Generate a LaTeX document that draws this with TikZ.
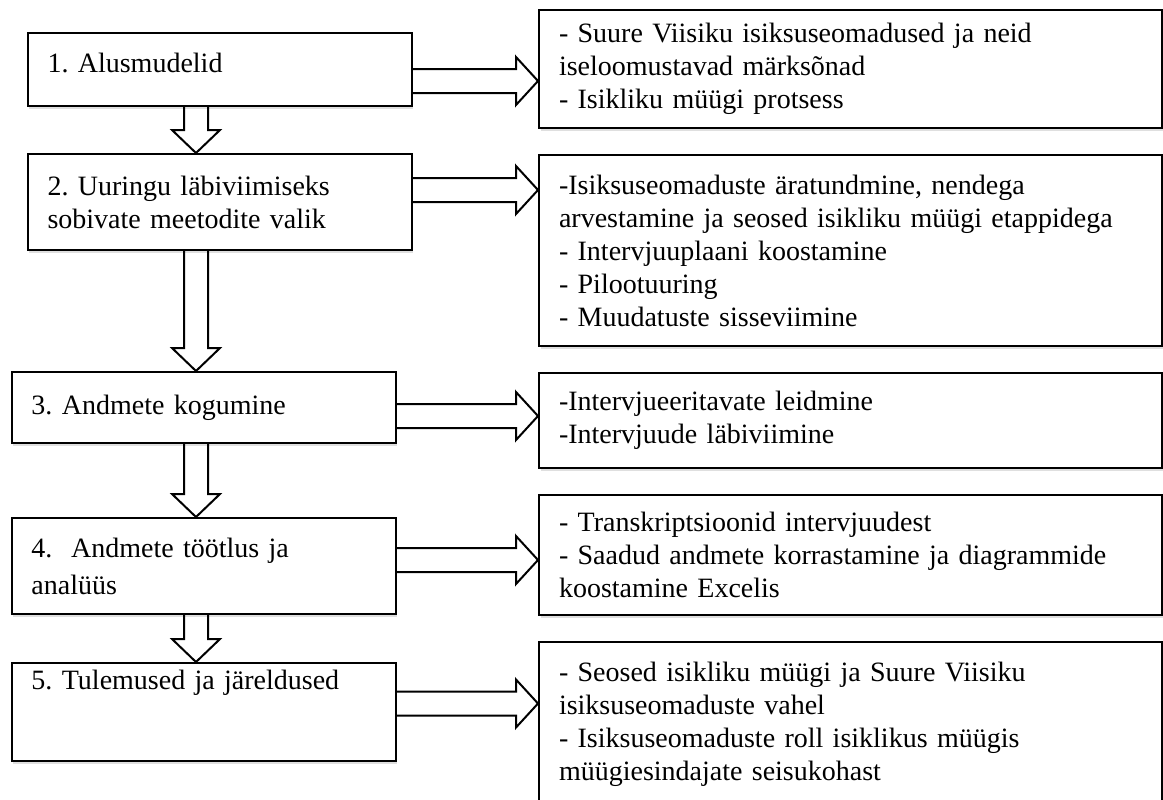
\documentclass[tikz,border=0pt]{standalone}
\usepackage{fontspec}
\setmainfont{Liberation Serif}
\frenchspacing
\usetikzlibrary{positioning, calc, shadows}

\newcommand{\rightblk}[3]{%
  \coordinate (p) at (#1.east |- 0,#3);
  \coordinate (q) at (#2.west |- 0,#3);
  \draw[barr] ($(p)+(0,-12)$) -- ($(q)+(-22,-12)$) -- ($(q)+(-22,-24)$) -- (q)
    -- ($(q)+(-22,24)$) -- ($(q)+(-22,12)$) -- ($(p)+(0,12)$);}
\newcommand{\downblk}[3]{%
  \coordinate (p) at (#1.south -| #3,0);
  \coordinate (q) at (#2.north -| #3,0);
  \draw[barr] ($(p)+(-12,0)$) -- ($(q)+(-12,-23)$) -- ($(q)+(-24,-23)$) -- (q)
    -- ($(q)+(24,-23)$) -- ($(q)+(12,-23)$) -- ($(p)+(12,0)$);}

\begin{document}
\begin{tikzpicture}[x=0.5pt, y=-0.5pt, node distance=12.5pt,
  font=\fontsize{14}{16.5}\selectfont,
  blk/.style={draw, line width=1pt, fill=white, align=left, inner xsep=10pt,
    drop shadow={shadow xshift=.8pt, shadow yshift=-1.5pt, opacity=.25}},
  lblk/.style={blk, text width=172pt},
  rblk/.style={blk, text width=291.5pt},
  barr/.style={line width=1pt, line join=miter}]
\useasboundingbox (0,0) rectangle (1163,799);
\clip (0,0) rectangle (1163,799);
% steps
\node[lblk, minimum height=36.5pt] (s1) at (219.5,69.5) {1. Alusmudelid\\[-9.5pt]\mbox{}};
\node[lblk, minimum height=48pt, below=23pt of s1] (s2) {2. Uuringu läbiviimiseks\\ sobivate meetodite valik};
\node[lblk, minimum height=35.5pt, below=60pt of s2, xshift=-8pt] (s3) {3. Andmete kogumine};
\node[lblk, minimum height=48pt, below=36.5pt of s3] (s4) {4.~ Andmete töötlus ja\\[2pt] analüüs};
\node[lblk, minimum height=48.5pt, below=23.5pt of s4] (s5) {5. Tulemused ja järeldused\\[16pt] \mbox{}};
% details
\node[rblk, minimum height=59pt] (d1) at (850.5,69) {- Suure Viisiku isiksuseomadused ja neid\\ iseloomustavad märksõnad\\ - Isikliku müügi protsess};
\node[rblk, minimum height=95.5pt, below=of d1] (d2) {-Isiksuseomaduste äratundmine, nendega\\ arvestamine ja seosed isikliku müügi etappidega\\ - Intervjuuplaani koostamine\\ - Pilootuuring\\ - Muudatuste sisseviimine};
\node[rblk, minimum height=47.5pt, below=of d2] (d3) {-Intervjueeritavate leidmine\\ -Intervjuude läbiviimine};
\node[rblk, minimum height=60pt, below=of d3] (d4) {- Transkriptsioonid intervjuudest\\ - Saadud andmete korrastamine ja diagrammide\\ koostamine Excelis};
\node[rblk, minimum height=96pt, below=of d4] (d5) {- Seosed isikliku müügi ja Suure Viisiku\\ isiksuseomaduste vahel\\ - Isiksuseomaduste roll isiklikus müügis\\ müügiesindajate seisukohast\\ \mbox{}};
% arrows
\downblk{s1}{s2}{196}
\downblk{s2}{s3}{196}
\downblk{s3}{s4}{196}
\downblk{s4}{s5}{196}
\rightblk{s1}{d1}{81}
\rightblk{s2}{d2}{190}
\rightblk{s3}{d3}{416}
\rightblk{s4}{d4}{560}
\rightblk{s5}{d5}{703.5}
\end{tikzpicture}
\end{document}
